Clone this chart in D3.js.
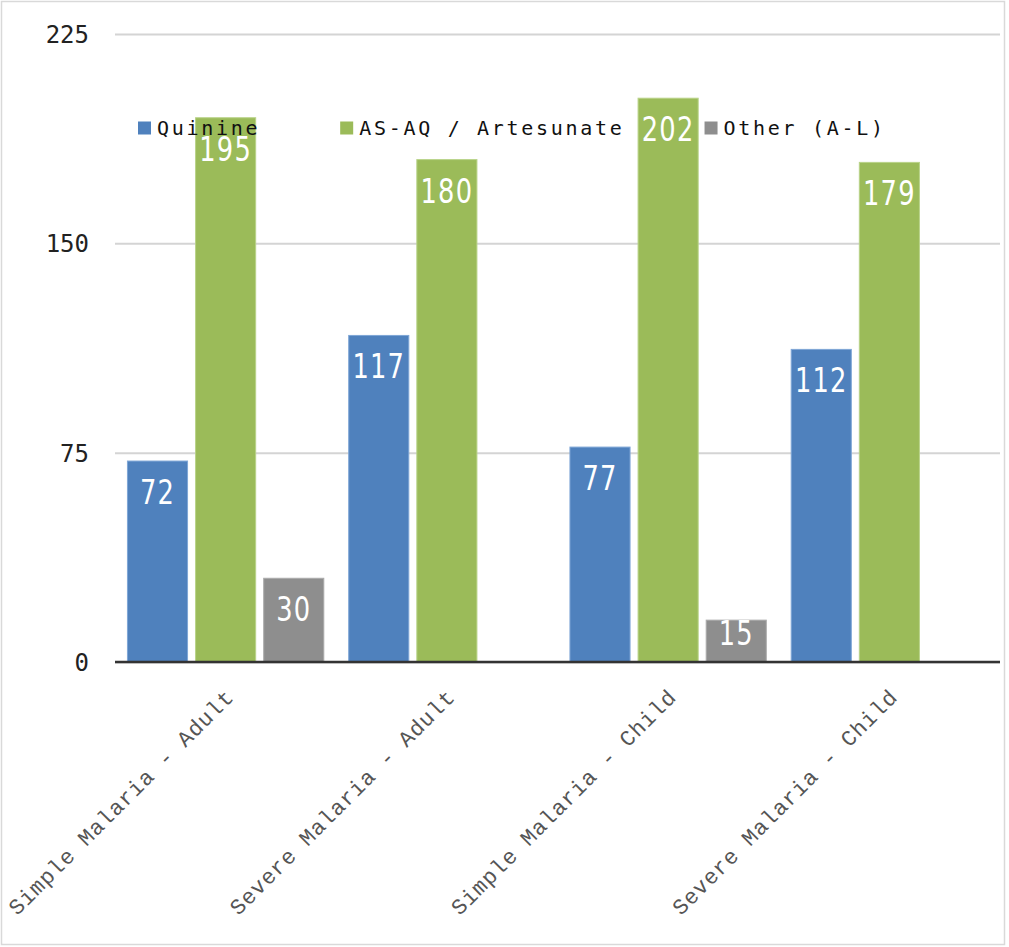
<!DOCTYPE html>
<html><head><meta charset="utf-8">
<script src="https://cdn.jsdelivr.net/npm/d3@7/dist/d3.min.js"></script>
<style>body{margin:0;background:#fff}svg{display:block}</style>
</head><body>
<svg id="c" width="1009" height="947"></svg>
<script>
const categories = ["Simple Malaria - Adult","Severe Malaria - Adult","Simple Malaria - Child","Severe Malaria - Child"];
const seriesNames = ["Quinine","AS-AQ / Artesunate","Other (A-L)"];
const quinine = [72,117,77,112];
const asaq = [195,180,202,179];
const other = [30,null,15,null];
const yTicks = [0,75,150,225];
const colors = ["#4F81BD","#9BBB59","#8E8E8E"];
const strokes = ["#7fa6d6","#b9d389","#ababab"];

const seriesValues = [quinine, asaq, other];
const svg = d3.select("#c");
const M = {l:115, r:1000, t:34, b:662};

svg.append("rect").attr("x",1.5).attr("y",1.5).attr("width",1003).attr("height",943)
  .attr("fill","#fff").attr("stroke","#d9d9d9").attr("stroke-width",1.5);

const x0 = d3.scaleBand().domain(categories).range([M.l,M.r]).paddingInner(0.108).paddingOuter(0.054);
const x1 = d3.scaleBand().domain(seriesNames).range([0,x0.bandwidth()]).paddingInner(0.103).paddingOuter(0);
const y = d3.scaleLinear().domain([0,225]).range([M.b,M.t]);

// gridlines
const yAxis = d3.axisLeft(y).tickValues(yTicks).tickSize(-(M.r-M.l)).tickPadding(26).tickFormat(d3.format("d"));
const ga = svg.append("g").attr("transform",`translate(${M.l},0)`).call(yAxis);
ga.select(".domain").remove();
ga.selectAll(".tick line").attr("stroke","#d4d4d4").attr("stroke-width",2);
ga.selectAll(".tick text").attr("font-family","'DejaVu Sans Mono', monospace").attr("font-size",24)
  .attr("fill","#222").attr("dy","0.35em");

// bars
const rows = [];
categories.forEach((c,i)=>seriesNames.forEach((s,j)=>{
  const v = seriesValues[j][i];
  if (v!=null) rows.push({c,s,j,v});
}));
const bars = svg.append("g");
bars.selectAll("rect").data(rows).join("rect")
  .attr("x",d=>x0(d.c)+x1(d.s)+0.5).attr("y",d=>y(d.v))
  .attr("width",x1.bandwidth()-1).attr("height",d=>y(0)-y(d.v))
  .attr("fill",d=>colors[d.j]).attr("stroke",d=>strokes[d.j]).attr("stroke-width",1);

bars.selectAll("text").data(rows).join("text")
  .attr("transform",d=>`translate(${x0(d.c)+x1(d.s)+x1.bandwidth()/2},${Math.min(y(d.v)+43, y(0)-17)}) scale(0.78,1)`)
  .attr("text-anchor","middle").attr("fill","#fff")
  .attr("font-family","'DejaVu Sans',sans-serif")
  .attr("font-size",33).attr("letter-spacing",1.5)
  .text(d=>d.v);

// baseline
svg.append("line").attr("x1",M.l).attr("x2",M.r).attr("y1",y(0)).attr("y2",y(0))
  .attr("stroke","#333").attr("stroke-width",2.5);

// category labels
const xAxis = svg.append("g");
xAxis.selectAll("text").data(categories).join("text")
  .attr("transform",d=>`translate(${x0(d)+x0.bandwidth()/2+4},${M.b+31}) rotate(-45)`)
  .attr("text-anchor","end").attr("dy","0.35em")
  .attr("font-family","'Liberation Mono', monospace").attr("font-size",22)
  .attr("letter-spacing",0.8).attr("fill","#555")
  .text(d=>d);

// legend
const lg = svg.append("g").attr("transform","translate(138,128)");
let xo = 0;
seriesNames.forEach((s,j)=>{
  const g = lg.append("g").attr("transform",`translate(${xo},0)`);
  g.append("rect").attr("x",0).attr("y",-6.5).attr("width",13).attr("height",13).attr("fill",colors[j]);
  const t = g.append("text").attr("x",19).attr("dy","0.35em")
    .attr("font-family","'DejaVu Sans Mono', monospace").attr("font-size",20)
    .attr("letter-spacing",2.7).attr("fill","#111").text(s);
  xo += 19 + t.node().getComputedTextLength() + 80;
});
</script>
</body></html>
